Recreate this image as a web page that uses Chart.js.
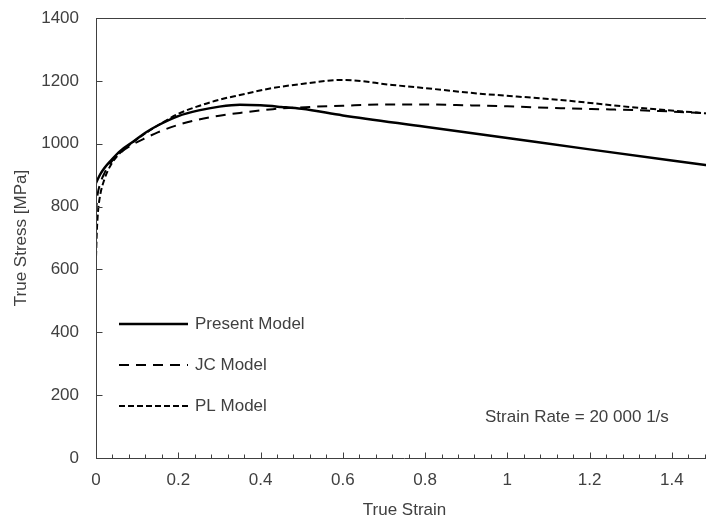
<!DOCTYPE html>
<html>
<head>
<meta charset="utf-8">
<script src="https://cdn.jsdelivr.net/npm/chart.js@4"></script>
<style>
  html, body { margin: 0; padding: 0; background: #fff; overflow: hidden; }
  #wrap { width: 706px; height: 519px; overflow: hidden; }
</style>
</head>
<body>
<div id="wrap"><canvas id="grafico" width="713" height="519"></canvas></div>
<script>
// datos (deformacion verdadera vs tension verdadera, MPa)
const presentStrain = [0, 0.01, 0.02, 0.035, 0.06, 0.09, 0.12, 0.15, 0.2, 0.25, 0.3, 0.35, 0.4, 0.45, 0.5, 0.6, 0.8, 1.0, 1.2, 1.5];
const presentStress = [875, 902, 922, 945, 978, 1006, 1035, 1058, 1088, 1106, 1118, 1124, 1122, 1117, 1111, 1090, 1054, 1018, 982, 929];

const jcStrain = [0, 0.003, 0.01, 0.02, 0.035, 0.06, 0.09, 0.12, 0.15, 0.2, 0.25, 0.3, 0.35, 0.43, 0.52, 0.6, 0.72, 0.8, 0.91, 1.0, 1.13, 1.25, 1.37, 1.5];
const jcStress = [780, 830, 872, 905, 938, 972, 998, 1018, 1036, 1060, 1077, 1089, 1098, 1110, 1117, 1121, 1125, 1125, 1122, 1119, 1113, 1109, 1104, 1096];

const plStrain = [0, 0.002, 0.005, 0.01, 0.02, 0.035, 0.06, 0.09, 0.12, 0.15, 0.2, 0.25, 0.3, 0.35, 0.42, 0.5, 0.6, 0.72, 0.8, 0.91, 1.13, 1.32, 1.5];
const plStress = [640, 720, 785, 835, 885, 930, 973, 1005, 1033, 1058, 1095, 1120, 1140, 1155, 1175, 1190, 1203, 1187, 1177, 1162, 1139, 1114, 1095];

const seriesNames = ['Present Model', 'JC Model', 'PL Model'];
const xTicks = [0, 0.2, 0.4, 0.6, 0.8, 1, 1.2, 1.4];
const yTicks = [0, 200, 400, 600, 800, 1000, 1200, 1400];
const xMinorStep = 0.04;
const note = 'Strain Rate = 20 000 1/s';

const FONT = '"Liberation Sans", Arial, sans-serif';
const TXT = '#404040';
const AXIS = '#404040';

function pares(xs, ys) {
    return xs.map((v, i) => ({ x: v, y: ys[i] }));
}

// ejes, marcas interiores, leyenda y nota
const marco = {
    id: 'marco',
    afterDatasetsDraw(chart) {
        const { ctx, chartArea: a, scales: { x, y } } = chart;
        ctx.save();
        ctx.strokeStyle = AXIS;
        ctx.lineWidth = 1;
        ctx.beginPath();
        const top = Math.round(a.top) + 0.5, bot = Math.round(a.bottom) + 0.5, left = Math.round(a.left) + 0.5;
        ctx.moveTo(a.left, top); ctx.lineTo(a.right, top);
        ctx.moveTo(a.left, bot); ctx.lineTo(a.right, bot);
        ctx.moveTo(left, a.top); ctx.lineTo(left, a.bottom);
        const n = Math.floor(x.max / xMinorStep + 1e-6);
        for (let i = 0; i <= n; i++) {
            const px = Math.round(x.getPixelForValue(i * xMinorStep)) + 0.5;
            const len = (i % 5 === 0) ? 6 : 4;
            ctx.moveTo(px, bot); ctx.lineTo(px, bot - len);
        }
        yTicks.forEach(v => {
            const py = Math.round(y.getPixelForValue(v)) + 0.5;
            ctx.moveTo(left, py); ctx.lineTo(left + 6, py);
        });
        ctx.stroke();

        // leyenda dentro del area
        ctx.font = '17px ' + FONT;
        ctx.textBaseline = 'middle';
        ctx.textAlign = 'left';
        chart.data.datasets.forEach((ds, i) => {
            const yy = 324 + i * 41;
            ctx.strokeStyle = ds.borderColor;
            ctx.lineWidth = ds.borderWidth;
            ctx.setLineDash(ds.borderDash || []);
            ctx.beginPath();
            ctx.moveTo(119, yy); ctx.lineTo(188, yy);
            ctx.stroke();
            ctx.fillStyle = TXT;
            ctx.fillText(ds.label, 195, yy);
        });
        ctx.setLineDash([]);
        ctx.fillStyle = TXT;
        ctx.fillText(note, 485, 417);
        ctx.restore();
    }
};

const ctx = document.getElementById('grafico').getContext('2d');

new Chart(ctx, {
    type: 'line',
    data: {
        datasets: [
            { label: seriesNames[0], data: pares(presentStrain, presentStress), borderColor: '#000', borderWidth: 2.5, borderDash: [] },
            { label: seriesNames[1], data: pares(jcStrain, jcStress), borderColor: '#000', borderWidth: 2, borderDash: [10, 7] },
            { label: seriesNames[2], data: pares(plStrain, plStress), borderColor: '#000', borderWidth: 2, borderDash: [6, 3] }
        ]
    },
    options: {
        responsive: false,
        animation: false,
        layout: { padding: { left: 0, right: 0, top: 18, bottom: 0 } },
        elements: {
            point: { radius: 0 },
            line: { cubicInterpolationMode: 'monotone', fill: false }
        },
        scales: {
            x: {
                type: 'linear',
                min: 0,
                max: 1.5,
                grid: { display: false, drawTicks: false },
                border: { display: false },
                afterBuildTicks: s => { s.ticks = xTicks.map(v => ({ value: v })); },
                afterFit: s => { s.height = 61; s.paddingLeft = 0; s.paddingRight = 0; },
                ticks: { color: TXT, font: { family: FONT, size: 17 }, padding: 12, maxRotation: 0, callback: v => String(v) },
                title: { display: true, text: 'True Strain', color: TXT, font: { family: FONT, size: 17 }, padding: { top: 0, bottom: -2 } }
            },
            y: {
                min: 0,
                max: 1400,
                grid: { display: false, drawTicks: false },
                border: { display: false },
                afterBuildTicks: s => { s.ticks = yTicks.map(v => ({ value: v })); },
                afterFit: s => { s.width = 96; s.paddingTop = 0; s.paddingBottom = 0; },
                ticks: { color: TXT, font: { family: FONT, size: 17 }, padding: 17, callback: v => String(v) },
                title: { display: true, text: 'True Stress [MPa]', color: TXT, font: { family: FONT, size: 17 }, padding: { top: 11, bottom: 0 } }
            }
        },
        plugins: {
            legend: { display: false },
            tooltip: { enabled: false }
        }
    },
    plugins: [marco]
});
</script>
</body>
</html>
